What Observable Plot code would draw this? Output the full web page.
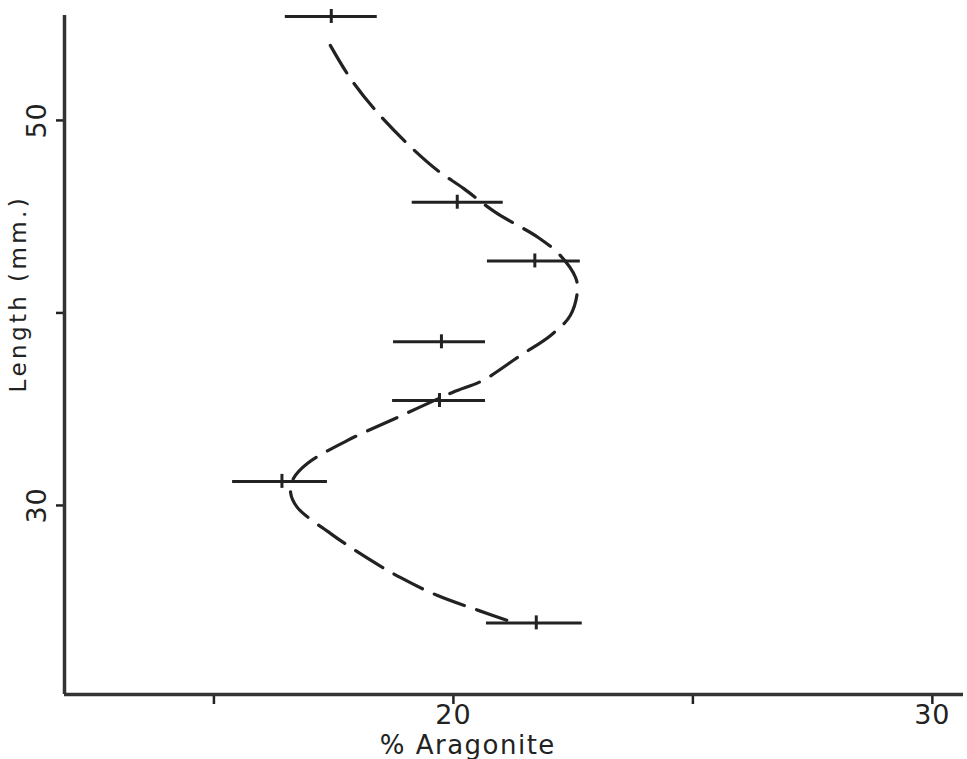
<!DOCTYPE html>
<html>
<head>
<meta charset="utf-8">
<script src="https://cdn.jsdelivr.net/npm/d3@7"></script>
<script src="https://cdn.jsdelivr.net/npm/@observablehq/plot@0.6"></script>
<style>
  html, body { margin: 0; padding: 0; background: #fff; }
  #chart svg { display: block; }
</style>
</head>
<body>
<div id="chart"></div>
<script>
// Error-bar points: length (mm), mean % aragonite, low and high ends
const pointLength = [55.4, 45.75, 42.7, 38.5, 35.45, 31.25, 23.9];
const pointMean   = [17.45, 20.08, 21.7, 19.75, 19.71, 16.42, 21.73];
const pointLow    = [16.49, 19.14, 20.71, 18.75, 18.73, 15.39, 20.69];
const pointHigh   = [18.41, 21.04, 22.65, 20.67, 20.67, 17.37, 22.69];

// Hand-drawn dashed trend curve (traced)
const curveX = [17.43, 17.85, 18.41, 19.14, 19.67, 20.21, 20.88, 21.77, 22.23, 22.55, 22.59, 22.44, 22.03, 21.40, 20.61, 19.98, 18.83, 17.79, 16.95, 16.66, 16.60, 16.74, 17.43, 18.18, 18.89, 19.67, 20.52, 21.19];
const curveY = [53.90, 52.18, 50.42, 48.55, 47.40, 46.47, 45.22, 43.92, 42.99, 41.84, 41.17, 39.87, 38.83, 37.79, 36.49, 35.87, 34.57, 33.38, 32.18, 31.40, 30.68, 29.90, 28.55, 27.30, 26.26, 25.32, 24.55, 23.97];

// Axes
const xDomain = [11.88, 30.65];
const yDomain = [20.18, 55.45];
const xTicks = [15, 20, 25, 30];
const xTickLabels = ["", "20", "", "30"];
const yTicks = [30, 40, 50];
const yTickLabels = ["30", "", "50"];
const xLabel = "% Aragonite";
const yLabel = "Length (mm.)";

const points = pointLength.map((y, i) => ({y, mean: pointMean[i], lo: pointLow[i], hi: pointHigh[i]}));
const curve = curveX.map((x, i) => ({x, y: curveY[i]}));
const yLabelRows = yTicks.map((t, i) => ({t, label: yTickLabels[i]})).filter(d => d.label);

const ink = "#222";
const chart = Plot.plot({
  width: 967,
  height: 759,
  marginLeft: 64,
  marginRight: 4,
  marginTop: 15,
  marginBottom: 65,
  style: {fontFamily: "'DejaVu Sans', sans-serif", fontSize: "24px", color: ink, background: "#fff"},
  x: {domain: xDomain},
  y: {domain: yDomain},
  marks: [
    Plot.axisX({ticks: xTicks, tickFormat: (d, i) => xTickLabels[i], tickSize: 10, tickPadding: 0, strokeWidth: 2.5, label: null, stroke: ink}),
    Plot.axisY({ticks: yTicks, tickFormat: () => "", tickSize: 8, strokeWidth: 2.5, label: null, stroke: ink}),
    Plot.text(yLabelRows, {y: "t", text: "label", frameAnchor: "left", dx: -27, rotate: -90, textAnchor: "middle", lineAnchor: "middle", fill: ink}),
    Plot.text([yLabel], {y: 41, text: d => d, frameAnchor: "left", dx: -46, rotate: -90, textAnchor: "middle", lineAnchor: "middle", fill: ink}),
    Plot.text([xLabel], {x: 20.3, text: d => d, frameAnchor: "bottom", dy: 51, textAnchor: "middle", lineAnchor: "middle", fill: ink}),
    Plot.ruleX([xDomain[0]], {stroke: "#333", strokeWidth: 3.5}),
    Plot.ruleY([yDomain[0]], {stroke: "#333", strokeWidth: 3.5}),
    Plot.line(curve, {x: "x", y: "y", curve: "catmull-rom", stroke: ink, strokeWidth: 3.2, strokeDasharray: "32,13", strokeLinecap: "round"}),
    Plot.ruleY(points, {y: "y", x1: "lo", x2: "hi", stroke: ink, strokeWidth: 3}),
    Plot.ruleX(points, {x: "mean", y1: "y", y2: "y", insetTop: -7, insetBottom: -7, stroke: ink, strokeWidth: 3})
  ]
});

// Font sizing and letter spacing to match the lettering of the original
d3.select(chart).selectAll("text").each(function() {
  const t = this.textContent;
  const s = this.style;
  if (t === xLabel) { s.fontSize = "26px"; s.letterSpacing = "1.5px"; }
  else if (t === yLabel) { s.fontSize = "23px"; s.letterSpacing = "3.4px"; }
  else { s.fontSize = "27px"; s.letterSpacing = "1px"; }
});
document.getElementById("chart").appendChild(chart);
</script>
</body>
</html>
